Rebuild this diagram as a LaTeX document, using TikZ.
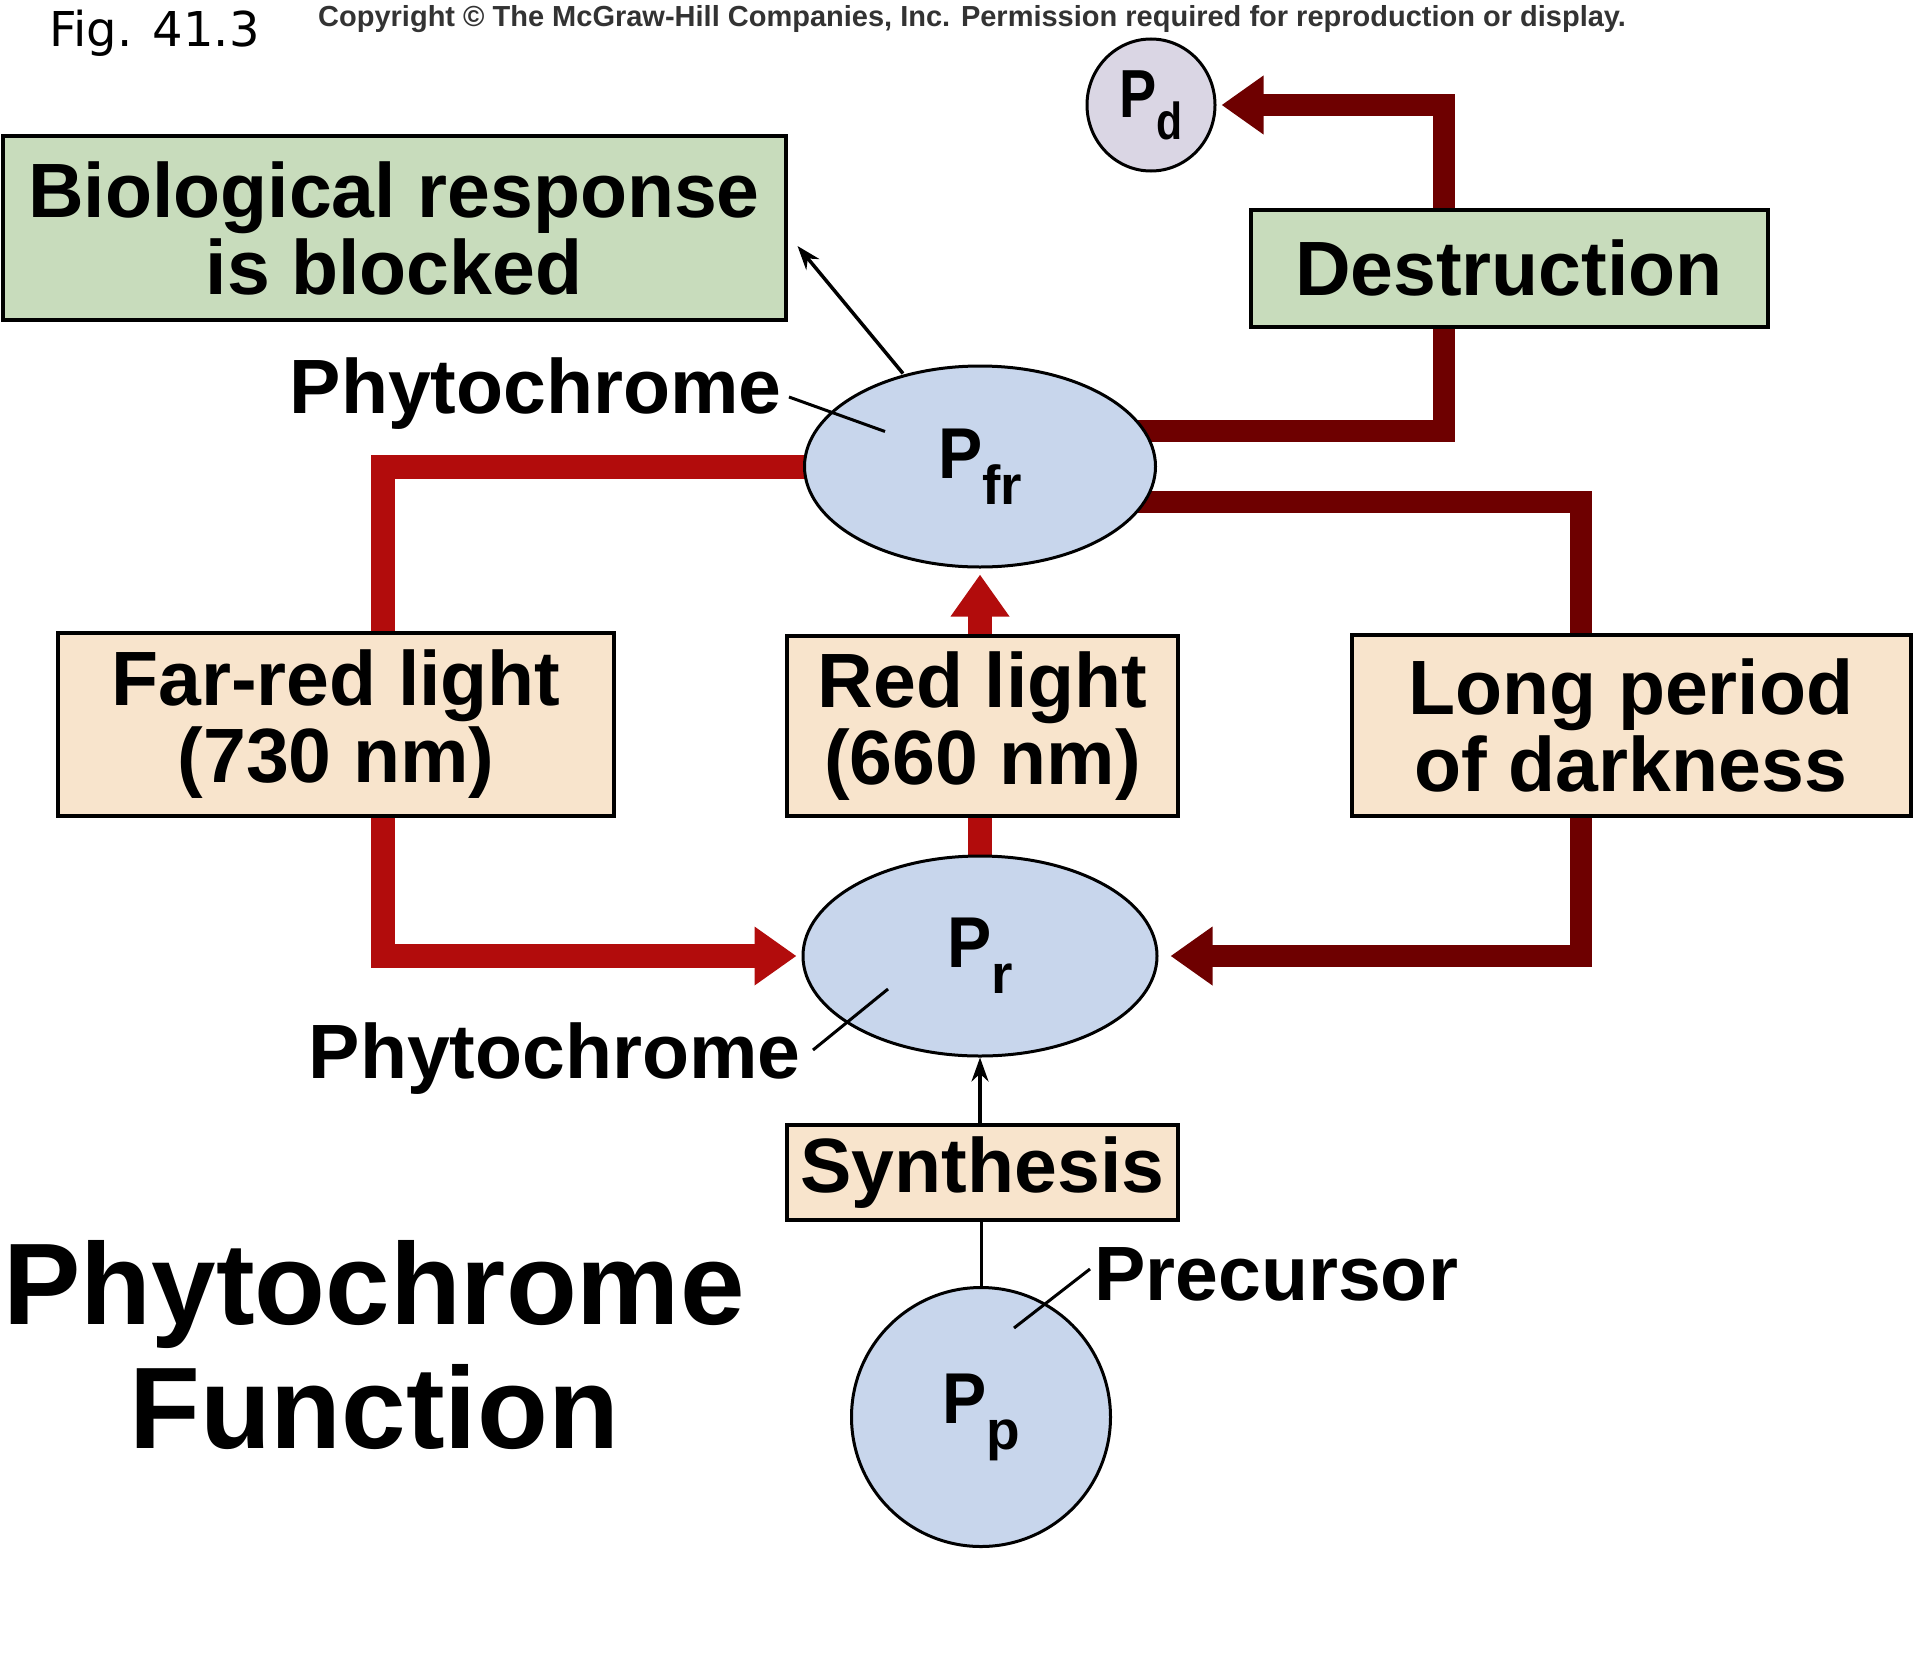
\documentclass[tikz,border=0pt]{standalone}
\usepackage{fontspec}
\usepackage{graphicx}
\setmainfont{Liberation Sans}
\newfontfamily\figfont{DejaVu Sans}
\usetikzlibrary{arrows.meta,shapes.geometric,calc}
\definecolor{boxgreen}{RGB}{200,220,188}
\definecolor{boxtan}{RGB}{248,228,204}
\definecolor{ellblue}{RGB}{200,214,236}
\definecolor{pdgrey}{RGB}{218,214,228}
\definecolor{lightred}{RGB}{178,12,12}
\definecolor{darkred}{RGB}{110,0,0}
\pgfdeclarelayer{bg}
\pgfsetlayers{bg,main}
\newcommand\Pcomp[1]{\scalebox{0.92}[1]{P}\kern0pt\raisebox{-26pt}{\fontsize{55}{55}\selectfont #1}}
\tikzset{
  lbl/.style={font=\fontsize{77}{77}\selectfont\bfseries, inner sep=0pt},
  boxbase/.style={draw=black, line width=4pt, inner sep=0pt, align=center,
    font=\fontsize{77}{77}\selectfont\bfseries},
  greenbox/.style={boxbase, fill=boxgreen},
  tanbox/.style={boxbase, fill=boxtan},
  pig/.style={ellipse, draw=black, line width=3pt, fill=ellblue, inner sep=0pt,
    font=\fontsize{72}{72}\selectfont\bfseries},
  redpath/.style={draw=lightred, line width=24pt, line join=miter},
  darkpath/.style={draw=darkred, line width=22pt, line join=miter},
  bigtip/.style={-{Triangle[length=42pt,width=56pt]}},
  thinarrow/.style={line width=3.5pt, -{Stealth[length=24pt,width=17pt]}},
  leader/.style={line width=3pt},
}
\begin{document}
\begin{tikzpicture}[x=1pt,y=-1pt]
\useasboundingbox (0,0) rectangle (1932,1670);

% header
\node[anchor=base west, inner sep=0pt, font=\figfont\fontsize{48}{48}\selectfont] (fig) at (49,47) {Fig. 41.3};
\node[anchor=base west, inner sep=0pt, text=black!80, font=\fontsize{29}{29}\selectfont\bfseries] (copy) at (318,27)
  {Copyright © The McGraw-Hill Companies, Inc. Permission required for reproduction or display.};

% boxes
\node[greenbox, minimum width=783pt, minimum height=184pt] (bio) at (394,228) {Biological response\\is blocked};
\node[greenbox, minimum width=517pt, minimum height=117pt] (destr) at (1509,268) {Destruction};
\node[tanbox, minimum width=556pt, minimum height=183pt] (farred) at (336,724.5) {Far-red light\\(730 nm)};
\node[tanbox, minimum width=391pt, minimum height=180pt] (redlight) at (982.5,726) {Red light\\(660 nm)};
\node[tanbox, minimum width=559pt, minimum height=181pt] (longdark) at (1631,725) {Long period\\of darkness};
\node[tanbox, minimum width=391pt, minimum height=95pt] (synth) at (982.5,1172.5) {Synthesis};

% pigments
\node[pig, minimum width=351pt, minimum height=201pt] (pfr) at (980,466.5) {\Pcomp{fr}};
\node[pig, minimum width=354pt, minimum height=200pt] (pr) at (980,956) {\Pcomp{r}};
\node[pig, minimum width=259pt, minimum height=259pt] (pp) at (981,1417) {\Pcomp{p}};
\node[pig, fill=pdgrey, minimum width=128pt, minimum height=132pt] (pd) at (1151,105)
  {\scalebox{0.82}[1]{\fontsize{68}{68}\selectfont P\kern0pt\raisebox{-22pt}{\fontsize{52}{52}\selectfont d}}};

% labels
\node[lbl, anchor=base east] (phy1) at (782,413) {Phytochrome};
\node[lbl, anchor=base east] (phy2) at (801,1078) {Phytochrome};
\node[lbl, anchor=base west] (prec) at (1094,1300) {Precursor};
\node[anchor=base, inner sep=0pt, font=\fontsize{116}{116}\selectfont\bfseries] (title1) at (374,1324) {Phytochrome};
\node[anchor=base, inner sep=0pt, font=\fontsize{116}{116}\selectfont\bfseries] (title2) at (374,1448) {Function};

% leaders and thin arrows
\draw[leader] ($(phy1.base east)+(7,-16)$) -- ($(pfr.center)+(-95,-35)$);
\draw[leader] ($(phy2.base east)+(12,-28)$) -- ($(pr.center)+(-92,33)$);
\draw[leader] ($(prec.base west)+(-4,-31)$) -- ($(pp.center)+(33,-89)$);
\draw[thinarrow] ($(pfr.center)+(-77,-93)$) -- ($(bio.east)+(10,18)$);
\draw[thinarrow] (synth.north -| pr.south) -- (pr.south);

\begin{pgfonlayer}{bg}
\fill[white] (0,0) rectangle (1932,1670);
\draw[leader] (pp.center) -- (pp.center |- synth.center);
% far-red pathway
\draw[redpath] (pfr.center) -| ([xshift=47pt]farred.center);
\draw[redpath, bigtip, shorten >=5pt] ([xshift=47pt]farred.center) |- (pr.west);
% red light pathway
\draw[redpath] (pr.center) -- (pr.center |- redlight.center);
\draw[redpath, bigtip, shorten >=6pt] (pfr.south |- redlight.center) -- (pfr.south);
% darkness pathway
\draw[darkpath] ($(pfr.center)+(0,35)$) -| ([xshift=-50pt]longdark.center);
\draw[darkpath, bigtip, shorten >=12pt] ([xshift=-50pt]longdark.center) |- (pr.east);
% destruction pathway
\draw[darkpath] ($(pfr.center)+(0,-36)$) -| ([xshift=-65pt]destr.center);
\draw[darkpath, bigtip, shorten >=5pt] ([xshift=-65pt]destr.center) |- (pd.east);
\end{pgfonlayer}
\end{tikzpicture}
\end{document}
